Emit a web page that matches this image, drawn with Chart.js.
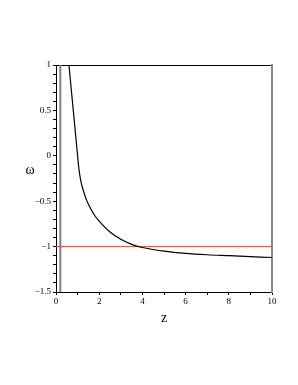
<!DOCTYPE html>
<html lang="en">
<head>
    <meta charset="UTF-8">
    <title>omega vs z</title>
    <script src="https://cdn.jsdelivr.net/npm/chart.js@4/dist/chart.umd.min.js"></script>
    <style>
        html, body { margin: 0; padding: 0; background: #fff; }
        #wrap { width: 298px; height: 385px; }
    </style>
</head>
<body>
    <div id="wrap"><canvas id="myChart" width="298" height="385"></canvas></div>

    <script type="text/javascript">
        // curve
        var zValues = [0.6, 0.7, 0.8, 0.9, 1.0, 1.05, 1.1, 1.15, 1.2, 1.3, 1.4, 1.6, 1.8, 2.0, 2.5, 3.0, 3.5, 4.0, 5.0, 6.0, 7.0, 8.0, 9.0, 10.0];
        var omegaValues = [1.0, 0.75, 0.5, 0.25, 0.0, -0.12, -0.21, -0.28, -0.33, -0.41, -0.48, -0.58, -0.66, -0.72, -0.84, -0.92, -0.975, -1.01, -1.05, -1.075, -1.09, -1.10, -1.11, -1.12];
        var asymptoteZ = 0.2;
        var refOmega = -1;
        var xRange = [0, 10];
        var yRange = [-1.5, 1];

        var curve = zValues.map(function (z, i) { return {x: z, y: omegaValues[i]}; });

        var labelPlugin = {
            id: 'labels',
            afterDraw: function (chart) {
                var ctx = chart.ctx, a = chart.chartArea;
                ctx.save();
                ctx.fillStyle = '#000';
                ctx.font = '14px "Liberation Serif"';
                ctx.textAlign = 'center';
                ctx.textBaseline = 'middle';
                ctx.fillText('\u03C9', 30, (a.top + a.bottom) / 2 - 8);
                ctx.fillText('z', (a.left + a.right) / 2, a.bottom + 26);
                ctx.restore();
            }
        };

        var tickFont = {family: '"Liberation Serif"', size: 9};

        var ctx = document.getElementById('myChart').getContext('2d');
        var myChart = new Chart(ctx, {
            type: 'scatter',
            data: {
                datasets: [{
                    data: curve,
                    showLine: true,
                    borderColor: '#000',
                    borderWidth: 1.2,
                    pointRadius: 0,
                    cubicInterpolationMode: 'monotone'
                }, {
                    data: [{x: xRange[0], y: refOmega}, {x: xRange[1], y: refOmega}],
                    showLine: true,
                    borderColor: '#e04848',
                    borderWidth: 1,
                    pointRadius: 0
                }, {
                    data: [{x: asymptoteZ, y: yRange[0]}, {x: asymptoteZ, y: yRange[1]}],
                    showLine: true,
                    borderColor: '#808080',
                    borderWidth: 2,
                    pointRadius: 0
                }]
            },
            options: {
                responsive: false,
                animation: false,
                events: [],
                layout: {padding: {top: 65, right: 26, bottom: 73, left: 0}},
                plugins: {legend: {display: false}, tooltip: {enabled: false}},
                scales: {
                    x: {
                        type: 'linear', min: xRange[0], max: xRange[1],
                        border: {color: '#000', width: 1},
                        grid: {drawOnChartArea: false, tickLength: 3, color: '#000'},
                        ticks: {
                            stepSize: 1, autoSkip: false, maxRotation: 0, color: '#000', font: tickFont, padding: 1,
                            callback: function (v) { return v % 2 === 0 ? String(v) : ''; }
                        },
                        afterFit: function (s) { s.height = 20; }
                    },
                    xTop: {
                        type: 'linear', position: 'top', min: xRange[0], max: xRange[1],
                        border: {color: '#000', width: 1},
                        grid: {drawOnChartArea: false, drawTicks: false},
                        ticks: {display: false},
                        afterFit: function (s) { s.height = 0; }
                    },
                    y: {
                        type: 'linear', min: yRange[0], max: yRange[1],
                        border: {color: '#000', width: 1},
                        grid: {drawOnChartArea: false, tickLength: 3, color: '#000'},
                        ticks: {
                            stepSize: 0.1, autoSkip: false, color: '#000', font: tickFont, padding: 2,
                            callback: function (v) {
                                var h = v * 2;
                                if (Math.abs(h - Math.round(h)) > 1e-6) return '';
                                var r = Math.round(h) / 2;
                                return r < 0 ? '\u2212' + String(-r) : String(r);
                            }
                        },
                        afterFit: function (s) { s.width = 56; }
                    },
                    yRight: {
                        type: 'linear', position: 'right', min: yRange[0], max: yRange[1],
                        border: {color: '#8a8a8a', width: 2},
                        grid: {drawOnChartArea: false, drawTicks: false},
                        ticks: {display: false},
                        afterFit: function (s) { s.width = 0; }
                    }
                }
            },
            plugins: [labelPlugin]
        });
    </script>
</body>
</html>
